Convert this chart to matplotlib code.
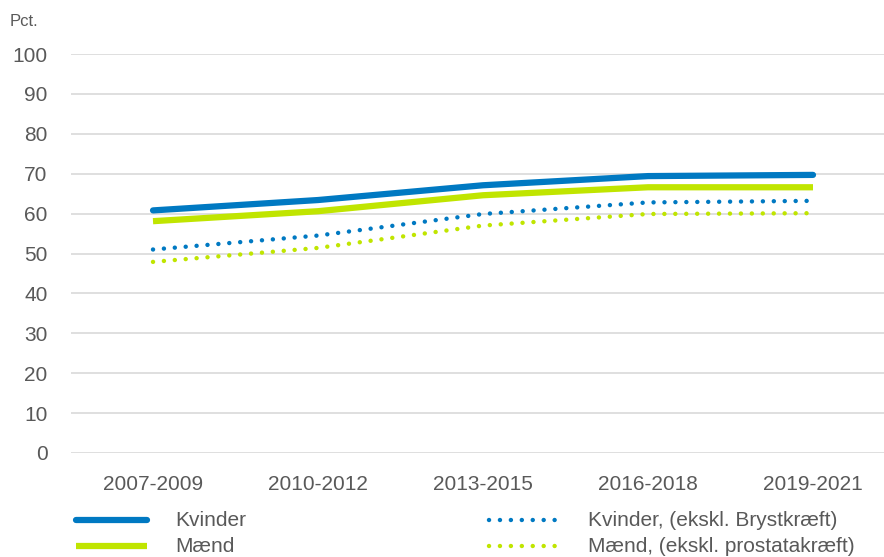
import matplotlib
matplotlib.use("Agg")
import matplotlib.pyplot as plt
from matplotlib.lines import Line2D

categories = ["2007-2009", "2010-2012", "2013-2015", "2016-2018", "2019-2021"]
kvinder = [60.8, 63.4, 67.1, 69.4, 69.7]
maend = [58.1, 60.6, 64.6, 66.6, 66.6]
kvinder_ekskl = [51.0, 54.5, 59.9, 62.8, 63.2]
maend_ekskl = [47.9, 51.4, 57.0, 59.9, 60.1]
yticks = list(range(0, 101, 10))

labels = ["Kvinder", "Mænd", "Kvinder, (ekskl. Brystkræft)", "Mænd, (ekskl. prostatakræft)"]
blue = "#0079C2"
green = "#C0E500"
txt = "#595959"

plt.rcParams['font.family'] = ['Liberation Sans', 'DejaVu Sans']

W, H = 884, 557
fig = plt.figure(figsize=(W / 100, H / 100), dpi=100)
left = 70.5 / W
bottom = 1 - 453 / H
height = (453 - 54) / H
width = 825 / W
ax = fig.add_axes([left, bottom, width, height])

x = list(range(len(categories)))
dot = (0, (0.01, 2.45))
ax.plot(x, kvinder, color=blue, lw=4.5, solid_capstyle='round', zorder=4)
ax.plot(x, maend, color=green, lw=4.5, solid_capstyle='butt', zorder=3)
ax.plot(x, kvinder_ekskl, color=blue, lw=3.2, linestyle=dot, dash_capstyle='round', zorder=2)
ax.plot(x, maend_ekskl, color=green, lw=3.2, linestyle=dot, dash_capstyle='round', zorder=2)

ax.set_xlim(-0.5, len(categories) - 0.5)
ax.set_ylim(0, 100)
ax.set_yticks(yticks)
ax.set_xticks(x)
ax.set_xticklabels(categories)
ax.tick_params(axis='both', length=0, labelsize=15, colors=txt)
ax.tick_params(axis='y', pad=16.5)
ax.tick_params(axis='x', pad=16)
ax.grid(axis='y', color='#D9D9D9', lw=1.2, zorder=0)
ax.set_axisbelow(True)
for s in ax.spines.values():
    s.set_visible(False)

fig.text(10 / W, 1 - 21 / H, "Pct.", fontsize=12, color=txt, va='center', ha='left')

# legend
def fx(px):
    return px / W
def fy(py):
    return 1 - py / H

rows = [520, 546]
fig.add_artist(Line2D([fx(76), fx(147)], [fy(rows[0])] * 2, color=blue, lw=4.5,
                      solid_capstyle='round', transform=fig.transFigure))
fig.add_artist(Line2D([fx(76), fx(147)], [fy(rows[1])] * 2, color=green, lw=4.5,
                      solid_capstyle='butt', transform=fig.transFigure))
fig.add_artist(Line2D([fx(489), fx(557)], [fy(rows[0])] * 2, color=blue, lw=3.2,
                      linestyle=dot, dash_capstyle='round', transform=fig.transFigure))
fig.add_artist(Line2D([fx(489), fx(557)], [fy(rows[1])] * 2, color=green, lw=3.2,
                      linestyle=dot, dash_capstyle='round', transform=fig.transFigure))
fig.text(fx(175), fy(rows[0]), labels[0], fontsize=15, color=txt, va='center')
fig.text(fx(175), fy(rows[1]), labels[1], fontsize=15, color=txt, va='center')
fig.text(fx(588), fy(rows[0]), labels[2], fontsize=15, color=txt, va='center')
fig.text(fx(588), fy(rows[1]), labels[3], fontsize=15, color=txt, va='center')

fig.savefig("out.png", dpi=100)
